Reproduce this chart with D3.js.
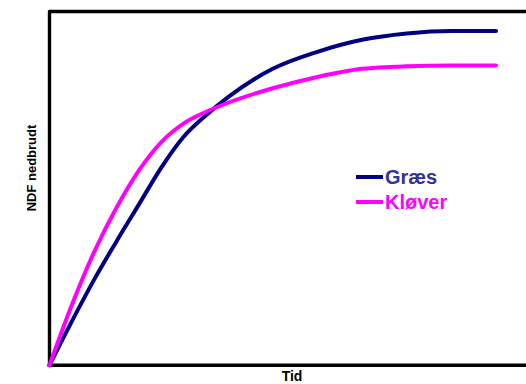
<!DOCTYPE html>
<html>
<head>
<meta charset="utf-8">
<script src="https://cdn.jsdelivr.net/npm/d3@7"></script>
<style>
  html, body { margin: 0; padding: 0; background: #fff; }
  svg { display: block; }
  text { font-family: "Liberation Sans", Arial, sans-serif; font-weight: bold; }
</style>
</head>
<body>
<svg id="chart" width="526" height="384"></svg>
<script>
// Time points (arbitrary units) shared by both series
const tid = [0, 0.5, 1, 1.5, 2, 2.5, 3, 3.5, 4, 5, 6, 7, 8, 9, 10];
// NDF degraded (% of the axis height)
const graes  = [0, 12.4, 24.2, 35.0, 45.4, 55.8, 64.5, 70.6, 75.8, 83.8, 88.6, 92.0, 93.8, 94.5, 94.5];
const klover = [0, 17.0, 32.0, 44.5, 55.0, 63.0, 68.3, 71.6, 74.2, 78.3, 81.5, 83.8, 84.5, 84.7, 84.7];
const seriesNames = ["Græs", "Kløver"];
const seriesColors = ["#000080", "#ff00ff"];
const labelColors = ["#333399", "#ff00ff"];
const xTitle = "Tid";
const yTitle = "NDF nedbrudt";

const svg = d3.select("#chart");
const plotLeft = 49.5, plotTop = 11.5, plotBottom = 365.2, plotRight = 496;

const x = d3.scaleLinear().domain([0, 10]).range([plotLeft, plotRight]);
const y = d3.scaleLinear().domain([0, 100]).range([plotBottom, plotTop]);

// Frame: left, top and bottom edges (right side runs past the view)
const frame = svg.append("g").attr("stroke", "#000").attr("stroke-width", 3.4).attr("fill", "none");
frame.append("path")
  .attr("d", `M${x(0)},${y(0) + 1.7}V${y(100)}H${x(12)}`)
  .attr("stroke-linejoin", "round");
frame.append("line")
  .attr("x1", x(0) - 1.7).attr("x2", x(12))
  .attr("y1", y(0)).attr("y2", y(0));

const line = d3.line()
  .x(d => x(d[0]))
  .y(d => y(d[1]))
  .curve(d3.curveMonotoneX);

[graes, klover].forEach((vals, i) => {
  svg.append("path")
    .datum(tid.map((t, j) => [t, vals[j]]))
    .attr("fill", "none")
    .attr("stroke", seriesColors[i])
    .attr("stroke-width", 4)
    .attr("stroke-linecap", "round")
    .attr("stroke-linejoin", "round")
    .attr("d", line);
});

// Legend
const legend = svg.append("g").attr("transform", "translate(356,177)");
seriesNames.forEach((name, i) => {
  const g = legend.append("g").attr("transform", `translate(0,${i * 25})`);
  g.append("line")
    .attr("x1", 0).attr("x2", 27).attr("y1", 0).attr("y2", 0)
    .attr("stroke", seriesColors[i]).attr("stroke-width", 4);
  g.append("text")
    .attr("x", 29).attr("y", 7)
    .attr("font-size", 20)
    .attr("fill", labelColors[i])
    .text(name);
});

// Axis titles
svg.append("text")
  .attr("x", 292).attr("y", 381)
  .attr("text-anchor", "middle")
  .attr("font-size", 14)
  .text(xTitle);

svg.append("text")
  .attr("transform", "translate(36,168) rotate(-90)")
  .attr("text-anchor", "middle")
  .attr("font-size", 13)
  .text(yTitle);
</script>
</body>
</html>
